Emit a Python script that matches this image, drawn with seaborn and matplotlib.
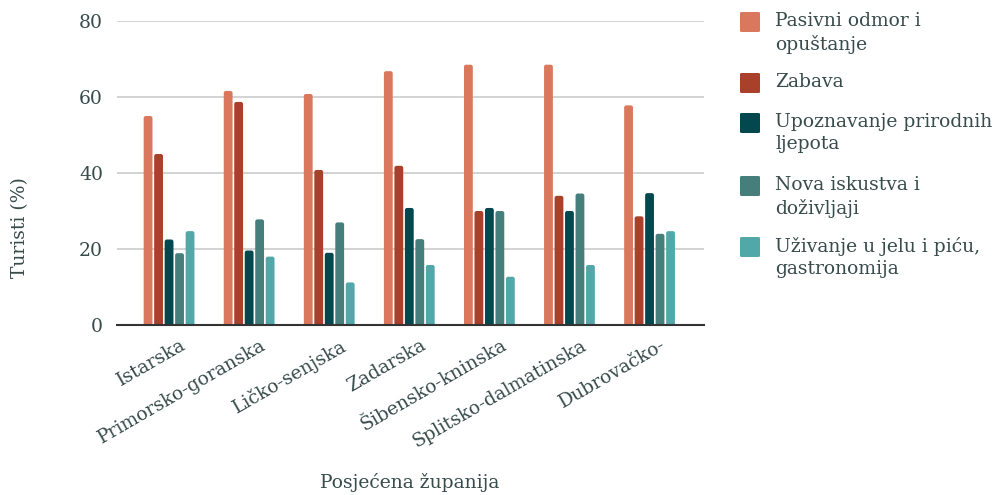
import textwrap
import matplotlib
matplotlib.use("Agg")
import matplotlib.pyplot as plt
import matplotlib.patches as mpatches
import matplotlib.transforms as mtrans
import pandas as pd
import seaborn as sns

counties = ["Istarska", "Primorsko-goranska", "Ličko-senjska", "Zadarska",
            "Šibensko-kninska", "Splitsko-dalmatinska", "Dubrovačko-"]
series = ["Pasivni odmor i opuštanje", "Zabava", "Upoznavanje prirodnih ljepota",
          "Nova iskustva i doživljaji", "Uživanje u jelu i piću, gastronomija"]
pasivni = [55, 61.6, 60.8, 66.8, 68.5, 68.5, 57.8]
zabava = [45, 58.7, 40.8, 41.9, 30, 34, 28.6]
upoznavanje = [22.5, 19.6, 19, 30.8, 30.8, 30, 34.7]
nova = [18.9, 27.8, 27, 22.6, 30, 34.6, 24]
uzivanje = [24.7, 18, 11.2, 15.8, 12.7, 15.8, 24.7]
yticks = [0, 20, 40, 60, 80]
colors = ["#D9785C", "#A8402A", "#03474F", "#467E7C", "#52A8A8"]

values = [pasivni, zabava, upoznavanje, nova, uzivanje]
rows = []
for s, vals in zip(series, values):
    for c, v in zip(counties, vals):
        rows.append({"Županija": c, "Motiv": s, "Turisti": v})
df = pd.DataFrame(rows)

sns.set_theme(style="white")
plt.rcParams["font.family"] = ["DejaVu Serif"]
text_color = "#384b4b"
fs = 13.5

fig = plt.figure(figsize=(9.95, 4.95), dpi=100)
W, H = 995, 495
ax = fig.add_axes([117 / W, 1 - 325 / H, (704 - 117) / W, (325 - 21) / H])

sns.barplot(data=df, x="Županija", y="Turisti", hue="Motiv", order=counties,
            hue_order=series, palette=colors, width=0.655, gap=0.16,
            saturation=1, ax=ax, legend=False, errorbar=None)

ax.set_ylim(0, 80)
ax.set_xlim(-0.65, 6.68)

# round the bar tops
px_x = 80.0   # pixels per x unit
px_y = 3.8    # pixels per y unit
r = 2.2 / px_x
for p in list(ax.patches):
    x0, w, h = p.get_x(), p.get_width(), p.get_height()
    fc = p.get_facecolor()
    p.remove()
    ax.add_patch(mpatches.FancyBboxPatch(
        (x0, -1.0), w, h + 1.0,
        boxstyle=f"round,pad=0,rounding_size={r}",
        mutation_aspect=px_x / px_y, facecolor=fc, edgecolor="none", zorder=2))

ax.set_yticks(yticks)
ax.set_yticklabels([str(t) for t in yticks])
ax.yaxis.grid(True, color="#cccccc", linewidth=1.2)
ax.set_axisbelow(True)
for sp in ["top", "right", "left"]:
    ax.spines[sp].set_visible(False)
ax.spines["bottom"].set_color("#333333")
ax.spines["bottom"].set_linewidth(1.5)
ax.spines["bottom"].set_zorder(5)
ax.tick_params(axis="y", length=0, pad=10,
               labelsize=fs, labelcolor=text_color)
ax.tick_params(axis="x", length=0, pad=8, labelsize=fs, labelcolor=text_color)
ax.set_xlabel("")
ax.set_ylabel("")

offset = mtrans.ScaledTranslation(11 / 100, 0, fig.dpi_scale_trans)
for lbl in ax.get_xticklabels():
    lbl.set_rotation(30)
    lbl.set_ha("right")
    lbl.set_rotation_mode("anchor")
    lbl.set_transform(lbl.get_transform() + offset)

fig.text(20 / W, 1 - 228 / H, "Turisti (%)", rotation=90, ha="center", va="center",
         fontsize=fs, color=text_color)
fig.text(410 / W, 1 - 483 / H, "Posjećena županija", ha="center", va="center",
         fontsize=fs, color=text_color)

# legend
leg_tops = [22, 83, 123, 186, 247]
for s, col, yc in zip(series, colors, leg_tops):
    fig.patches.append(mpatches.FancyBboxPatch(
        (740 / W, 1 - (yc + 10) / H), 20 / W, 20 / H,
        boxstyle="round,pad=0,rounding_size=0.002", transform=fig.transFigure,
        facecolor=col, edgecolor="none"))
    fig.text(775 / W, 1 - (yc - 10) / H, textwrap.fill(s, 23), ha="left", va="top",
             fontsize=fs, color=text_color, linespacing=1.32)

fig.savefig("out.png", dpi=100)
